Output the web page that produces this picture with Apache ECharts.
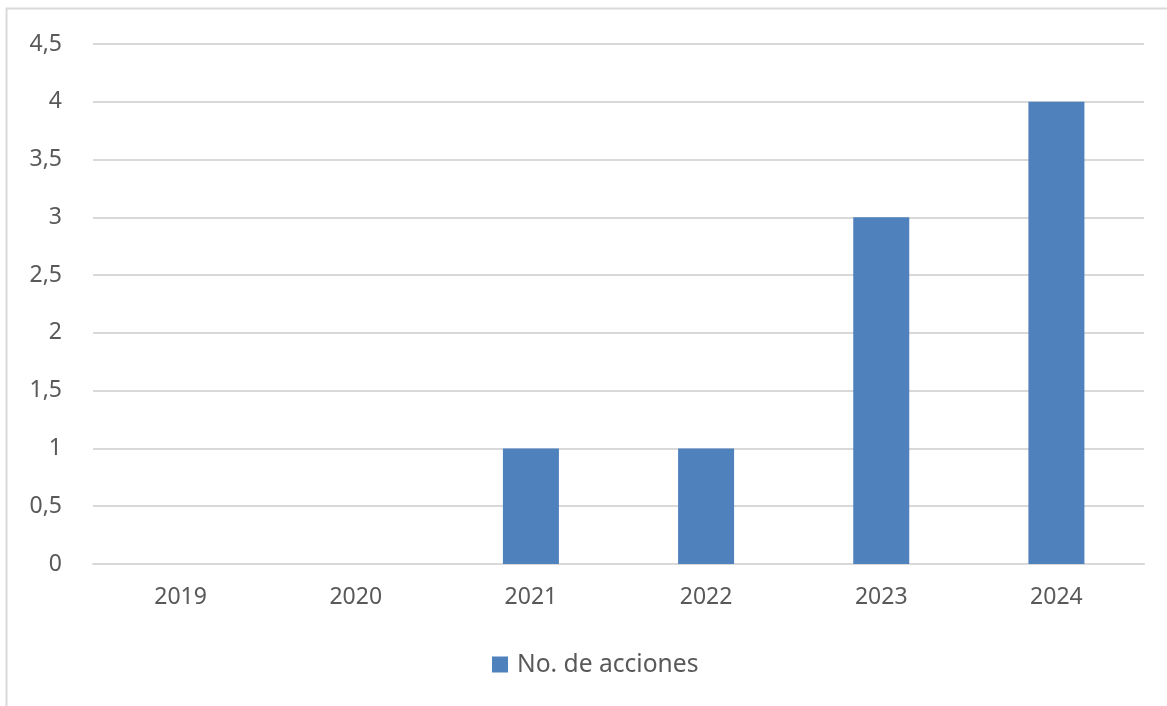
<!DOCTYPE html>
<html>
<head>
<meta charset="utf-8">
<script src="https://cdn.jsdelivr.net/npm/echarts@6/dist/echarts.min.js"></script>
<style>
html,body{margin:0;padding:0;background:#fff;}
#chart{width:1167px;height:706px;}
</style>
</head>
<body>
<div id="chart"></div>
<script>
const categories = ['2019', '2020', '2021', '2022', '2023', '2024'];
const seriesName = 'No. de acciones';
const values = [0, 0, 1, 1, 3, 4];

const chart = echarts.init(document.getElementById('chart'));
const font = 'Noto Sans';
const textColor = '#595959';
chart.setOption({
  animation: false,
  backgroundColor: '#fff',
  graphic: [{
    type: 'rect',
    shape: { x: 6.5, y: 8.5, width: 1200, height: 800 },
    style: { fill: 'none', stroke: '#d9d9d9', lineWidth: 2 },
    silent: true
  }],
  grid: { left: 93, right: 23, top: 44, bottom: 142 },
  legend: {
    data: [seriesName],
    bottom: 24,
    left: 487,
    itemWidth: 16,
    itemHeight: 16,
    icon: 'rect',
    textStyle: { color: textColor, fontFamily: font, fontSize: 24.6, padding: [0, 0, 0, 4] }
  },
  xAxis: {
    type: 'category',
    data: categories,
    axisLine: { show: true, lineStyle: { color: '#d9d9d9', width: 2 } },
    axisTick: { show: false },
    axisLabel: { color: textColor, fontFamily: font, fontSize: 23, margin: 22 }
  },
  yAxis: {
    type: 'value',
    min: 0,
    max: 4.5,
    interval: 0.5,
    axisLine: { show: false },
    axisTick: { show: false },
    splitLine: { lineStyle: { color: '#d9d9d9', width: 2 } },
    axisLabel: {
      color: textColor, fontFamily: font, fontSize: 23, margin: 31,
      formatter: v => String(v).replace('.', ',')
    }
  },
  series: [{
    name: seriesName,
    type: 'bar',
    data: values,
    barWidth: 56,
    itemStyle: { color: '#4f81bd' }
  }]
});
</script>
</body>
</html>
